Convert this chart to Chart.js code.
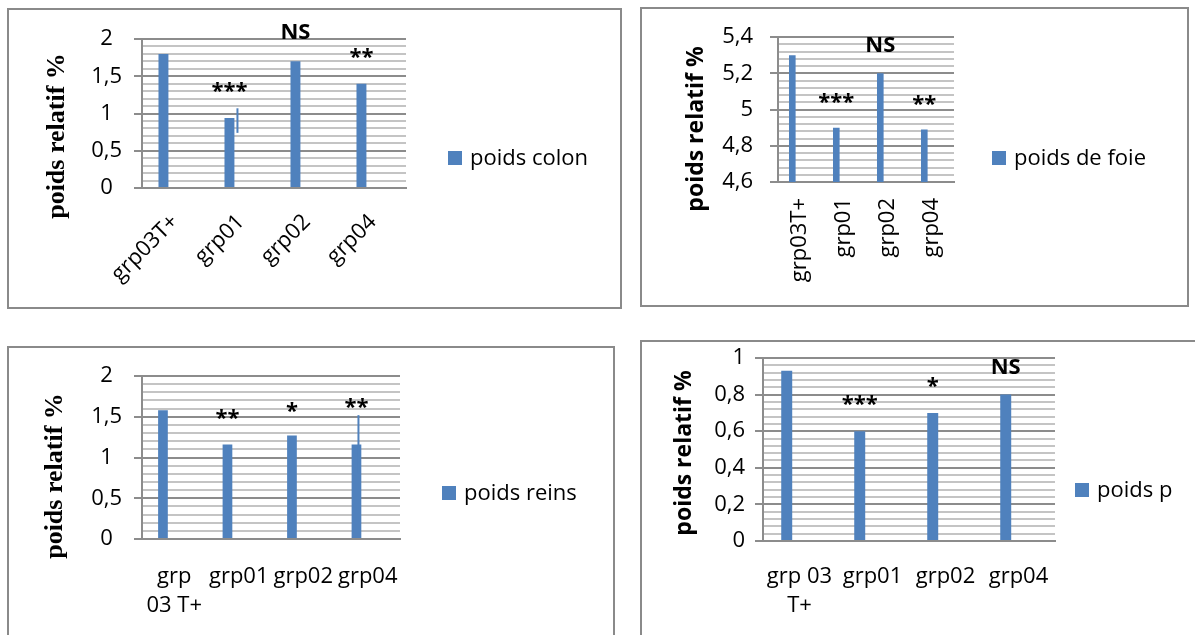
<!DOCTYPE html>
<html>
<head>
<meta charset="utf-8">
<style>
  body { margin: 0; background: #fff; }
  #page { position: relative; width: 1195px; height: 635px; overflow: hidden; }
  #page canvas { position: absolute; left: 0; top: 0; }
</style>
</head>
<body>
<script src="https://cdn.jsdelivr.net/npm/chart.js"></script>

<div id="page">
  <canvas id="colon" width="1195" height="635"></canvas>
  <canvas id="foie" width="1195" height="635"></canvas>
  <canvas id="reins" width="1195" height="635"></canvas>
  <canvas id="pp" width="1195" height="635"></canvas>
</div>

<script>
// ---- data ----
const colonLabels = ['grp03T+', 'grp01', 'grp02', 'grp04'];
const colonValues = [1.8, 0.94, 1.7, 1.4];
const colonErrLow = [null, 0.74, null, null];
const colonErrHigh = [null, 1.07, null, null];
const colonSig = ['', '***', 'NS', '**'];

const foieLabels = ['grp03T+', 'grp01', 'grp02', 'grp04'];
const foieValues = [5.3, 4.9, 5.2, 4.89];
const foieSig = ['', '***', 'NS', '**'];

const reinsLabels = [['grp', '03 T+'], 'grp01', 'grp02', 'grp04'];
const reinsValues = [1.58, 1.16, 1.27, 1.16];
const reinsErrLow = [null, null, null, 0.80];
const reinsErrHigh = [null, null, null, 1.52];
const reinsSig = ['', '**', '*', '**'];

const pLabels = [['grp 03', 'T+'], 'grp01', 'grp02', 'grp04'];
const pValues = [0.93, 0.6, 0.7, 0.8];
const pSig = ['', '***', '*', 'NS'];

const yTitle = 'poids relatif %';

// ---- look ----
const BLUE = '#4f81bd';
const MAJOR = '#8c8c8c';
const MINOR = '#c4c4c4';
Chart.defaults.font.family = 'Open Sans';
Chart.defaults.font.size = 22;
Chart.defaults.color = '#000';

function isMajor(v, step) {
  return Math.abs(v / step - Math.round(v / step)) < 1e-6;
}

// frame, y title, legend, significance marks and error bars
const decor = {
  id: 'decor',
  beforeDraw(chart, args, o) {
    const ctx = chart.ctx;
    ctx.save();
    ctx.strokeStyle = '#8a8a8a';
    ctx.lineWidth = 2;
    ctx.strokeRect(o.box[0], o.box[1], o.box[2], o.box[3]);
    ctx.restore();
  },
  afterDatasetsDraw(chart, args, o) {
    const ctx = chart.ctx;
    const ys = chart.scales.y;
    const bars = chart.getDatasetMeta(0).data;
    ctx.save();

    if (o.errLow) {
      ctx.strokeStyle = BLUE;
      ctx.lineWidth = 2;
      o.errLow.forEach((lo, i) => {
        if (lo == null) return;
        const x = bars[i].x + o.errShift;
        ctx.beginPath();
        ctx.moveTo(x, ys.getPixelForValue(lo));
        ctx.lineTo(x, ys.getPixelForValue(o.errHigh[i]));
        ctx.stroke();
      });
    }

    ctx.fillStyle = '#000';
    ctx.textAlign = 'center';
    ctx.textBaseline = 'middle';
    o.sig.forEach((s, i) => {
      if (!s) return;
      const stars = s[0] === '*';
      ctx.font = 'bold 22px "Open Sans"';
      ctx.fillText(s, bars[i].x, ys.getPixelForValue(o.sigY[i]) + (stars ? 6 : 0));
    });

    ctx.save();
    ctx.translate(o.title[0], o.title[1]);
    ctx.rotate(-Math.PI / 2);
    ctx.font = o.titleFont;
    ctx.fillText(yTitle, 0, 0);
    ctx.restore();

    ctx.fillStyle = BLUE;
    ctx.fillRect(o.legend[0], o.legend[1] - 7, 14, 14);
    ctx.fillStyle = '#000';
    ctx.textAlign = 'left';
    ctx.font = '22px "Open Sans"';
    ctx.fillText(chart.data.datasets[0].label, o.legend[0] + 22, o.legend[1] + 1);
    ctx.restore();
  }
};

function makeChart(id, c) {
  const xH = 635 - c.area[3];
  return new Chart(id, {
    type: 'bar',
    data: {
      labels: c.labels,
      datasets: [
        { label: c.series, data: c.values, backgroundColor: BLUE,
          categoryPercentage: 0.7, barPercentage: 0.43 },
        { label: '', data: [], backgroundColor: BLUE,
          categoryPercentage: 0.7, barPercentage: 0.43 }
      ]
    },
    options: {
      responsive: false,
      animation: false,
      events: [],
      layout: {
        padding: { left: c.area[0] - 100, right: 1195 - c.area[1], top: c.area[2], bottom: 0 }
      },
      scales: {
        x: {
          afterFit(s) { s.height = xH; },
          grid: { display: false, drawTicks: false },
          border: { display: true, color: MAJOR, width: 2 },
          ticks: { autoSkip: false, minRotation: c.rot, maxRotation: c.rot, padding: c.xPad,
                   font: { lineHeight: 1.34 } }
        },
        y: {
          min: c.min, max: c.max,
          afterFit(s) { s.width = 100; },
          border: { display: true, color: MAJOR, width: 2 },
          grid: {
            lineWidth: 2,
            tickLength: 8,
            color: g => isMajor(g.tick.value - c.min, c.major) ? MAJOR : MINOR,
            tickColor: g => isMajor(g.tick.value - c.min, c.major) ? MAJOR : 'rgba(0,0,0,0)'
          },
          ticks: {
            stepSize: c.minor, autoSkip: false, maxTicksLimit: 100, padding: c.yPad,
            crossAlign: c.yAlign,
            callback: v => isMajor(v - c.min, c.major) ? String(+v.toFixed(2)).replace('.', ',') : ''
          }
        }
      },
      plugins: {
        legend: { display: false },
        tooltip: { enabled: false },
        decor: c.decor
      }
    },
    plugins: [decor]
  });
}

makeChart('colon', {
  labels: colonLabels, values: colonValues, series: 'poids colon',
  area: [142, 406, 39, 188], min: 0, max: 2, minor: 0.1, major: 0.5,
  rot: 45, xPad: 20, yPad: 12, yAlign: 'center',
  decor: {
    box: [8, 9, 613, 299], title: [57, 136], titleFont: 'bold 26px "Liberation Serif"',
    legend: [448, 158], sig: colonSig, sigY: [null, 1.37, 2.08, 1.83],
    errLow: colonErrLow, errHigh: colonErrHigh, errShift: 8
  }
});

makeChart('foie', {
  labels: foieLabels, values: foieValues, series: 'poids de foie',
  area: [778, 954, 37, 182], min: 4.6, max: 5.4, minor: 0.04, major: 0.2,
  rot: 90, xPad: 16, yPad: 17, yAlign: 'near',
  decor: {
    box: [641, 8, 547, 298], title: [696, 129], titleFont: 'bold 23px "Open Sans"',
    legend: [992, 158], sig: foieSig, sigY: [null, 5.07, 5.35, 5.06]
  }
});

makeChart('reins', {
  labels: reinsLabels, values: reinsValues, series: 'poids reins',
  area: [142, 400, 376, 539], min: 0, max: 2, minor: 0.1, major: 0.5,
  rot: 0, xPad: 23, yPad: 12, yAlign: 'center',
  decor: {
    box: [8, 347, 606, 300], title: [55, 476], titleFont: 'bold 26px "Liberation Serif"',
    legend: [442, 493], sig: reinsSig, sigY: [null, 1.55, 1.64, 1.68],
    errLow: reinsErrLow, errHigh: reinsErrHigh, errShift: 2
  }
});

makeChart('pp', {
  labels: pLabels, values: pValues, series: 'poids p',
  area: [763, 1055, 358, 541], min: 0, max: 1, minor: 0.04, major: 0.2,
  rot: 0, xPad: 21, yPad: 10, yAlign: 'near',
  decor: {
    box: [641, 341, 600, 300], title: [684, 453], titleFont: 'bold 23px "Open Sans"',
    legend: [1075, 490], sig: pSig, sigY: [null, 0.78, 0.875, 0.945]
  }
});
</script>
</body>
</html>
